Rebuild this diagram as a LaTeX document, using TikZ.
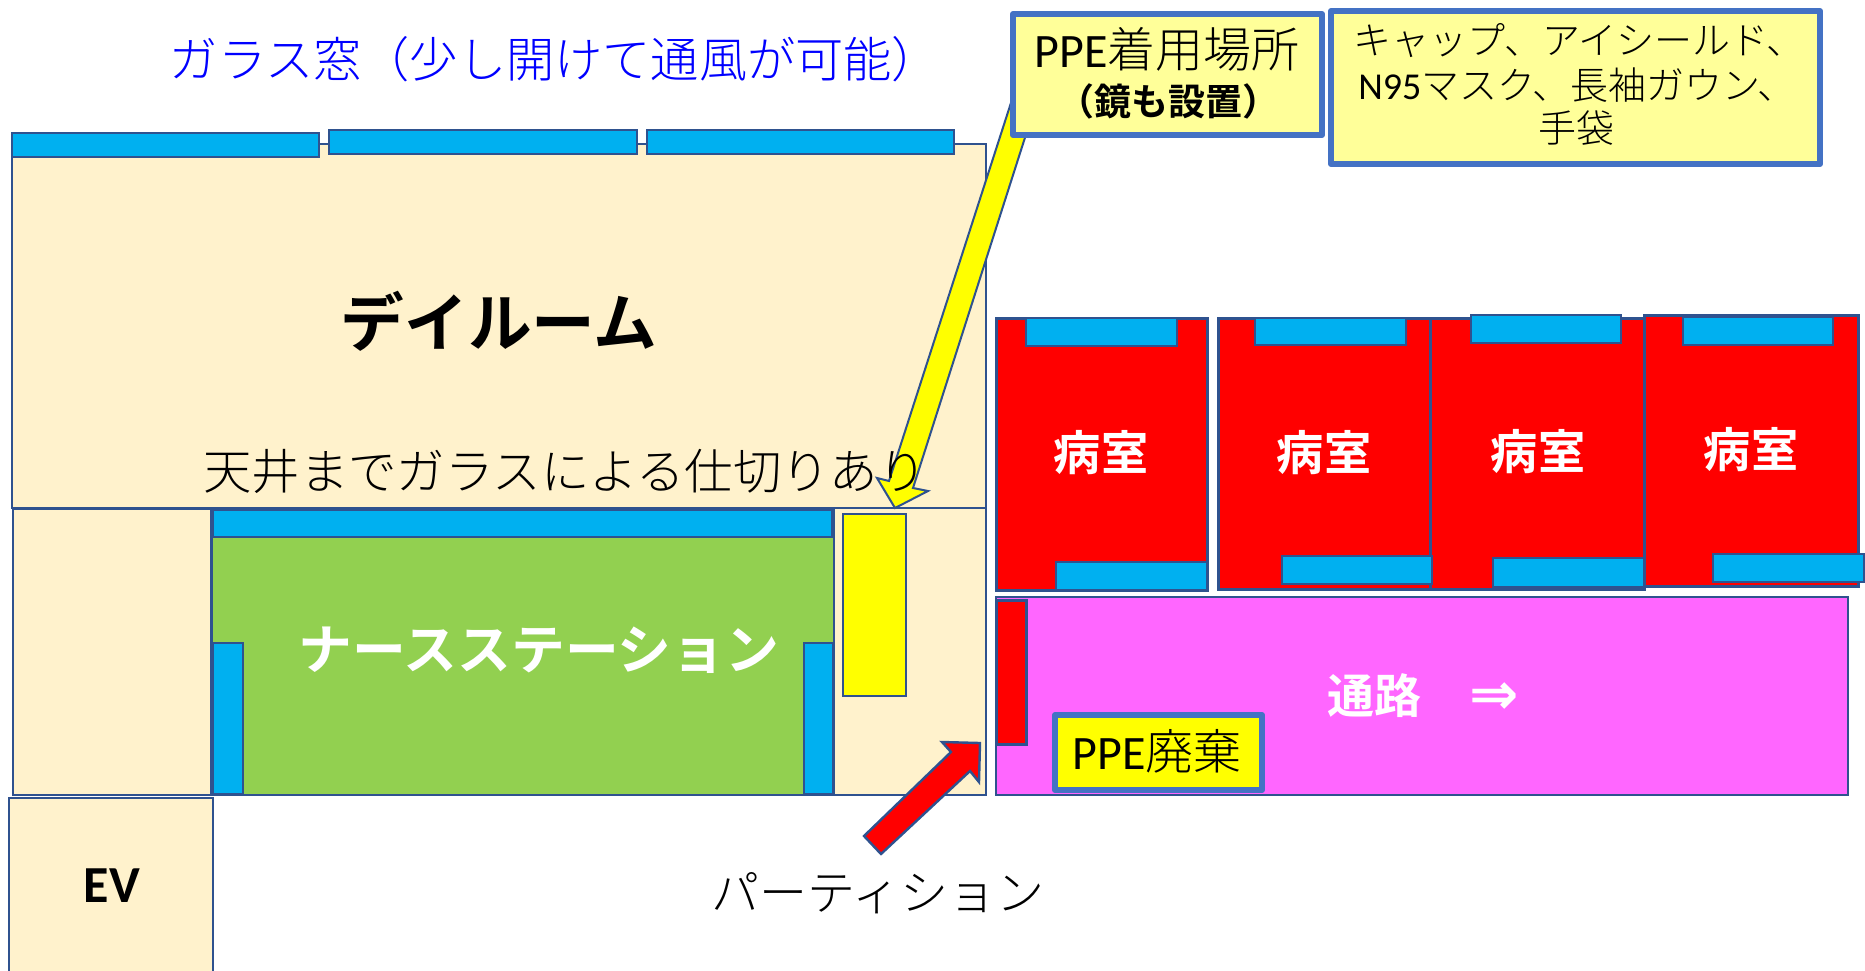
\documentclass[tikz,border=0pt]{standalone}
\usepackage{fontspec}
\setmainfont{Carlito}
\newfontfamily\jp{Noto Sans CJK JP Light}
\newfontfamily\jpb{Noto Sans CJK JP Bold}
\newfontfamily\lat{Carlito}
\newfontfamily\arw{DejaVu Sans Bold}
\newcommand{\fz}[1]{\fontsize{#1}{#1}\selectfont}
\definecolor{ln}{HTML}{2F528F}
\definecolor{bx}{HTML}{4472C4}
\definecolor{cream}{HTML}{FFF2CC}
\definecolor{glass}{HTML}{00B0F0}
\definecolor{nurse}{HTML}{92D050}
\definecolor{pink}{HTML}{FF66FF}
\definecolor{pale}{HTML}{FFFF99}
\definecolor{pureyellow}{HTML}{FFFF00}
\definecolor{purered}{HTML}{FF0000}
\definecolor{pureblue}{HTML}{0000FF}
\tikzset{
 room/.style={draw=ln,line width=2.4pt,fill=cream},
 win/.style={draw=ln,line width=2.8pt,fill=glass},
 sick/.style={draw=ln,line width=3pt,fill=purered},
 lab/.style={inner sep=0pt,anchor=base,align=center},
 callout/.style={draw=bx,line width=6pt,line join=round}
}
\begin{document}
\begin{tikzpicture}[x=1pt,y=-1pt]
\useasboundingbox (0,0) rectangle (1865,970);
% day room and surroundings
\draw[room] (12,144) rectangle (986,508);
\draw[room] (13,509) rectangle (211,795);
\draw[room] (834,508) rectangle (986,795);
\draw[room] (9,798) rectangle (213,972);
% nurse station
\draw[draw=ln,line width=2.4pt,fill=nurse] (212,510) rectangle (834,795);
\draw[win] (212.5,510) rectangle (832,537);
\draw[win] (212.5,643) rectangle (243,794);
\draw[win] (804,643) rectangle (833,794);
\draw[draw=ln,line width=2.4pt,fill=pureyellow] (843,514) rectangle (906,696);
% outer windows
\draw[win] (12,133) rectangle (319,157);
\draw[win] (329,130) rectangle (637,154);
\draw[win] (647,130) rectangle (954,154);
% yellow arrow
\draw[draw=ln,line width=2pt,fill=pureyellow,line join=miter]
 (1028,50) -- (1045,75) -- (913,488) -- (928,491) -- (895,508) -- (877,478) -- (889,481) -- cycle;
% rooms
\draw[sick] (996,318) rectangle (1207,590);
\draw[sick] (1218,318) rectangle (1430,589);
\draw[sick] (1430,318) rectangle (1644,589);
\draw[sick] (1644,315) rectangle (1858,586);
\draw[win] (1026,318) rectangle (1177,346);
\draw[win] (1255,318) rectangle (1406,345);
\draw[win] (1471,315) rectangle (1621,343);
\draw[win] (1683,317) rectangle (1833,345);
\draw[win] (1056,562) rectangle (1207,590);
\draw[win] (1282,556) rectangle (1432,584);
\draw[win] (1493,558) rectangle (1644,587);
\draw[win] (1713,554) rectangle (1864,582);
% corridor
\draw[draw=ln,line width=2.4pt,fill=pink] (996,597) rectangle (1848,795);
\draw[sick] (996,600) rectangle (1026,744);
\draw[callout,fill=pureyellow] (1055,715) rectangle (1262,790);
% red arrow
\draw[draw=ln,line width=2.4pt,fill=purered,line join=miter]
 (942,742) -- (980,743) -- (979,782) -- (970,771) -- (881,854) -- (864,836) -- (951,752) -- cycle;
% callouts
\draw[callout,fill=pale] (1013,14) rectangle (1322,135);
\draw[callout,fill=pale] (1331,11) rectangle (1820,164);
% labels
\node[lab,text=pureblue,font=\jp\fz{48.2}] (title) at (555,77) {ガラス窓（少し開けて通風が可能）};
\node[lab,font=\jpb\fz{63.7}] (day) at (499,346) {デイルーム};
\node[lab,font=\jp\fz{48.4}] (glasswall) at (565,489) {天井までガラスによる仕切りあり};
\node[lab,text=white,font=\jpb\fz{53.8}] (ns) at (539,669) {ナースステーション};
\node[lab,font=\jp\fz{48}] (part) at (878,910) {パーティション};
\node[lab,font=\lat\bfseries\fz{52}] (ev) at (112,902) {EV};
\node[lab,text=white,font=\jpb\fz{47.2}] (r1) at (1101,470) {病室};
\node[lab,text=white,font=\jpb\fz{47.2}] (r2) at (1324,470) {病室};
\node[lab,text=white,font=\jpb\fz{47.2}] (r3) at (1538,469) {病室};
\node[lab,text=white,font=\jpb\fz{47.2}] (r4) at (1751,467) {病室};
\node[lab,text=white,font=\jpb\fz{47}] (corr) at (1374,713) {通路};
\node[lab,text=white,font=\arw\fz{59}] (corrarrow) at (1494,714) {⇒};
\node[lab,font=\jp\fz{48}] (ppe1) at (1167,67) {{\lat\fz{48}PPE}着用場所};
\node[lab,font=\jpb\fz{37}] (ppe2) at (1168,115) {（鏡も設置）};
\node[lab,font=\jp\fz{38}] (kit1) at (1579,54) {キャップ、アイシールド、};
\node[lab,font=\jp\fz{38}] (kit2) at (1577,99) {{\lat\fz{38}N95}マスク、長袖ガウン、};
\node[lab,font=\jp\fz{38}] (kit3) at (1576,142) {手袋};
\node[lab,font=\jp\fz{48}] (ppe3) at (1157,769) {{\lat\fz{48}PPE}廃棄};
\end{tikzpicture}
\end{document}
